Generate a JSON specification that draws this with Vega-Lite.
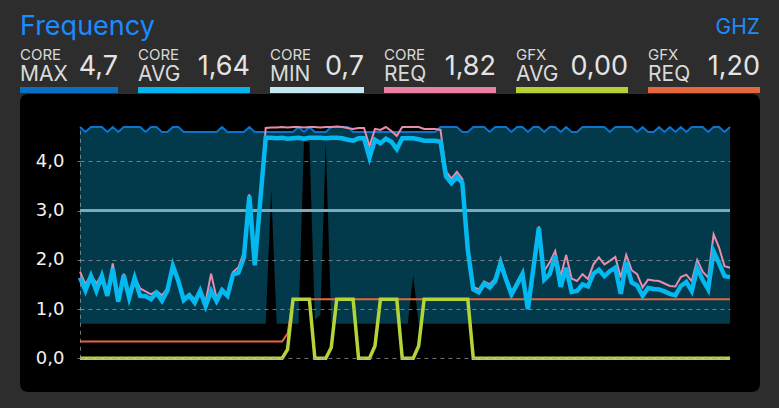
{
  "$schema": "https://vega.github.io/schema/vega-lite/v6.json",
  "background": "#2d2d2d",
  "padding": {"left": 20, "top": 13, "right": 19, "bottom": 17},
  "config": {
    "locale": {"number": {"decimal": ",", "thousands": ".", "grouping": [3], "currency": ["", " €"]}},
    "view": {"stroke": null},
    "text": {"font": "Inter"}
  },
  "spacing": 1,
  "vconcat": [
    {
      "bounds": "flush",
      "spacing": 20,
      "hconcat": [
        {
          "width": 98, "height": 6,
          "data": {"values": [{"key": "MAX", "grp": "CORE", "v": 4.7}]},
          "layer": [
            {"mark": {"type": "rect", "color": "#0a6fc2"}, "encoding": {"x": {"field": "key", "type": "nominal", "axis": null, "scale": {"paddingInner": 0, "paddingOuter": 0}}}},
            {"mark": {"type": "text", "align": "left", "baseline": "alphabetic", "dy": -55, "fontSize": 27, "color": "#1a8cff"}, "encoding": {"x": {"field": "key", "type": "nominal", "axis": null, "bandPosition": 0}, "text": {"value": "Frequency"}}},
            {"mark": {"type": "text", "align": "left", "baseline": "alphabetic", "dy": -30, "fontSize": 15, "color": "#dadada"}, "encoding": {"x": {"field": "key", "type": "nominal", "axis": null, "bandPosition": 0}, "text": {"field": "grp"}}},
            {"mark": {"type": "text", "align": "left", "baseline": "alphabetic", "dy": -9, "fontSize": 21, "color": "#dadada"}, "encoding": {"x": {"field": "key", "type": "nominal", "axis": null, "bandPosition": 0}, "text": {"field": "key"}}},
            {"mark": {"type": "text", "align": "right", "baseline": "alphabetic", "dy": -15, "fontSize": 27, "color": "#e4e4e4"}, "encoding": {"x": {"field": "key", "type": "nominal", "axis": null, "bandPosition": 1}, "text": {"field": "v", "type": "quantitative", "format": ".1f"}}}
          ]
        },
        {
          "width": 112, "height": 6,
          "data": {"values": [{"key": "AVG", "grp": "CORE", "v": 1.64}]},
          "layer": [
            {"mark": {"type": "rect", "color": "#04b4ec"}, "encoding": {"x": {"field": "key", "type": "nominal", "axis": null, "scale": {"paddingInner": 0, "paddingOuter": 0}}}},
            {"mark": {"type": "text", "align": "left", "baseline": "alphabetic", "dy": -30, "fontSize": 15, "color": "#dadada"}, "encoding": {"x": {"field": "key", "type": "nominal", "axis": null, "bandPosition": 0}, "text": {"field": "grp"}}},
            {"mark": {"type": "text", "align": "left", "baseline": "alphabetic", "dy": -9, "fontSize": 21, "color": "#dadada"}, "encoding": {"x": {"field": "key", "type": "nominal", "axis": null, "bandPosition": 0}, "text": {"field": "key"}}},
            {"mark": {"type": "text", "align": "right", "baseline": "alphabetic", "dy": -15, "fontSize": 27, "color": "#e4e4e4"}, "encoding": {"x": {"field": "key", "type": "nominal", "axis": null, "bandPosition": 1}, "text": {"field": "v", "type": "quantitative", "format": ".2f"}}}
          ]
        },
        {
          "width": 94, "height": 6,
          "data": {"values": [{"key": "MIN", "grp": "CORE", "v": 0.7}]},
          "layer": [
            {"mark": {"type": "rect", "color": "#c4e7f4"}, "encoding": {"x": {"field": "key", "type": "nominal", "axis": null, "scale": {"paddingInner": 0, "paddingOuter": 0}}}},
            {"mark": {"type": "text", "align": "left", "baseline": "alphabetic", "dy": -30, "fontSize": 15, "color": "#dadada"}, "encoding": {"x": {"field": "key", "type": "nominal", "axis": null, "bandPosition": 0}, "text": {"field": "grp"}}},
            {"mark": {"type": "text", "align": "left", "baseline": "alphabetic", "dy": -9, "fontSize": 21, "color": "#dadada"}, "encoding": {"x": {"field": "key", "type": "nominal", "axis": null, "bandPosition": 0}, "text": {"field": "key"}}},
            {"mark": {"type": "text", "align": "right", "baseline": "alphabetic", "dy": -15, "fontSize": 27, "color": "#e4e4e4"}, "encoding": {"x": {"field": "key", "type": "nominal", "axis": null, "bandPosition": 1}, "text": {"field": "v", "type": "quantitative", "format": ".1f"}}}
          ]
        },
        {
          "width": 112, "height": 6,
          "data": {"values": [{"key": "REQ", "grp": "CORE", "v": 1.82}]},
          "layer": [
            {"mark": {"type": "rect", "color": "#ea7ea4"}, "encoding": {"x": {"field": "key", "type": "nominal", "axis": null, "scale": {"paddingInner": 0, "paddingOuter": 0}}}},
            {"mark": {"type": "text", "align": "left", "baseline": "alphabetic", "dy": -30, "fontSize": 15, "color": "#dadada"}, "encoding": {"x": {"field": "key", "type": "nominal", "axis": null, "bandPosition": 0}, "text": {"field": "grp"}}},
            {"mark": {"type": "text", "align": "left", "baseline": "alphabetic", "dy": -9, "fontSize": 21, "color": "#dadada"}, "encoding": {"x": {"field": "key", "type": "nominal", "axis": null, "bandPosition": 0}, "text": {"field": "key"}}},
            {"mark": {"type": "text", "align": "right", "baseline": "alphabetic", "dy": -15, "fontSize": 27, "color": "#e4e4e4"}, "encoding": {"x": {"field": "key", "type": "nominal", "axis": null, "bandPosition": 1}, "text": {"field": "v", "type": "quantitative", "format": ".2f"}}}
          ]
        },
        {
          "width": 112, "height": 6,
          "data": {"values": [{"key": "AVG", "grp": "GFX", "v": 0}]},
          "layer": [
            {"mark": {"type": "rect", "color": "#b5d134"}, "encoding": {"x": {"field": "key", "type": "nominal", "axis": null, "scale": {"paddingInner": 0, "paddingOuter": 0}}}},
            {"mark": {"type": "text", "align": "left", "baseline": "alphabetic", "dy": -30, "fontSize": 15, "color": "#dadada"}, "encoding": {"x": {"field": "key", "type": "nominal", "axis": null, "bandPosition": 0}, "text": {"field": "grp"}}},
            {"mark": {"type": "text", "align": "left", "baseline": "alphabetic", "dy": -9, "fontSize": 21, "color": "#dadada"}, "encoding": {"x": {"field": "key", "type": "nominal", "axis": null, "bandPosition": 0}, "text": {"field": "key"}}},
            {"mark": {"type": "text", "align": "right", "baseline": "alphabetic", "dy": -15, "fontSize": 27, "color": "#e4e4e4"}, "encoding": {"x": {"field": "key", "type": "nominal", "axis": null, "bandPosition": 1}, "text": {"field": "v", "type": "quantitative", "format": ".2f"}}}
          ]
        },
        {
          "width": 112, "height": 6,
          "data": {"values": [{"key": "REQ", "grp": "GFX", "v": 1.2}]},
          "layer": [
            {"mark": {"type": "rect", "color": "#e5673d"}, "encoding": {"x": {"field": "key", "type": "nominal", "axis": null, "scale": {"paddingInner": 0, "paddingOuter": 0}}}},
            {"mark": {"type": "text", "align": "right", "baseline": "alphabetic", "dy": -56, "fontSize": 21, "color": "#1a8cff"}, "encoding": {"x": {"field": "key", "type": "nominal", "axis": null, "bandPosition": 1}, "text": {"value": "GHZ"}}},
            {"mark": {"type": "text", "align": "left", "baseline": "alphabetic", "dy": -30, "fontSize": 15, "color": "#dadada"}, "encoding": {"x": {"field": "key", "type": "nominal", "axis": null, "bandPosition": 0}, "text": {"field": "grp"}}},
            {"mark": {"type": "text", "align": "left", "baseline": "alphabetic", "dy": -9, "fontSize": 21, "color": "#dadada"}, "encoding": {"x": {"field": "key", "type": "nominal", "axis": null, "bandPosition": 0}, "text": {"field": "key"}}},
            {"mark": {"type": "text", "align": "right", "baseline": "alphabetic", "dy": -15, "fontSize": 27, "color": "#e4e4e4"}, "encoding": {"x": {"field": "key", "type": "nominal", "axis": null, "bandPosition": 1}, "text": {"field": "v", "type": "quantitative", "format": ".2f"}}}
          ]
        }
      ]
    },
    {
      "width": 740,
      "height": 298,
      "view": {"fill": "#000000", "cornerRadius": 8, "stroke": null},
      "data": {"values": [
        {"t":0,"mx":4.7,"mn":0.7,"av":1.64,"rq":1.76,"ga":0,"gr":0.34},
        {"t":1,"mx":4.6,"mn":0.7,"av":1.38,"rq":1.50,"ga":0,"gr":0.34},
        {"t":2,"mx":4.7,"mn":0.7,"av":1.67,"rq":1.70,"ga":0,"gr":0.34},
        {"t":3,"mx":4.7,"mn":0.7,"av":1.37,"rq":1.52,"ga":0,"gr":0.34},
        {"t":4,"mx":4.7,"mn":0.7,"av":1.67,"rq":1.70,"ga":0,"gr":0.34},
        {"t":5,"mx":4.6,"mn":0.7,"av":1.27,"rq":1.30,"ga":0,"gr":0.34},
        {"t":6,"mx":4.7,"mn":0.7,"av":1.82,"rq":1.93,"ga":0,"gr":0.34},
        {"t":7,"mx":4.6,"mn":0.7,"av":1.15,"rq":1.18,"ga":0,"gr":0.34},
        {"t":8,"mx":4.7,"mn":0.7,"av":1.69,"rq":1.72,"ga":0,"gr":0.34},
        {"t":9,"mx":4.7,"mn":0.7,"av":1.23,"rq":1.26,"ga":0,"gr":0.34},
        {"t":10,"mx":4.7,"mn":0.7,"av":1.63,"rq":1.66,"ga":0,"gr":0.34},
        {"t":11,"mx":4.7,"mn":0.7,"av":1.27,"rq":1.42,"ga":0,"gr":0.34},
        {"t":12,"mx":4.6,"mn":0.7,"av":1.26,"rq":1.36,"ga":0,"gr":0.34},
        {"t":13,"mx":4.7,"mn":0.7,"av":1.20,"rq":1.30,"ga":0,"gr":0.34},
        {"t":14,"mx":4.7,"mn":0.7,"av":1.33,"rq":1.37,"ga":0,"gr":0.34},
        {"t":15,"mx":4.6,"mn":0.7,"av":1.17,"rq":1.28,"ga":0,"gr":0.34},
        {"t":16,"mx":4.6,"mn":0.7,"av":1.38,"rq":1.42,"ga":0,"gr":0.34},
        {"t":17,"mx":4.7,"mn":0.7,"av":1.88,"rq":1.90,"ga":0,"gr":0.34},
        {"t":18,"mx":4.7,"mn":0.7,"av":1.57,"rq":1.60,"ga":0,"gr":0.34},
        {"t":19,"mx":4.6,"mn":0.7,"av":1.18,"rq":1.22,"ga":0,"gr":0.34},
        {"t":20,"mx":4.6,"mn":0.7,"av":1.28,"rq":1.31,"ga":0,"gr":0.34},
        {"t":21,"mx":4.6,"mn":0.7,"av":1.13,"rq":1.20,"ga":0,"gr":0.34},
        {"t":22,"mx":4.6,"mn":0.7,"av":1.37,"rq":1.40,"ga":0,"gr":0.34},
        {"t":23,"mx":4.6,"mn":0.7,"av":1.06,"rq":1.15,"ga":0,"gr":0.34},
        {"t":24,"mx":4.6,"mn":0.7,"av":1.37,"rq":1.72,"ga":0,"gr":0.34},
        {"t":25,"mx":4.6,"mn":0.7,"av":1.16,"rq":1.22,"ga":0,"gr":0.34},
        {"t":26,"mx":4.7,"mn":0.7,"av":1.38,"rq":1.42,"ga":0,"gr":0.34},
        {"t":27,"mx":4.6,"mn":0.7,"av":1.27,"rq":1.30,"ga":0,"gr":0.34},
        {"t":28,"mx":4.6,"mn":0.7,"av":1.70,"rq":1.75,"ga":0,"gr":0.34},
        {"t":29,"mx":4.6,"mn":0.7,"av":1.74,"rq":1.85,"ga":0,"gr":0.34},
        {"t":30,"mx":4.6,"mn":0.7,"av":2.05,"rq":2.15,"ga":0,"gr":0.34},
        {"t":31,"mx":4.7,"mn":0.7,"av":3.30,"rq":3.33,"ga":0,"gr":0.34},
        {"t":32,"mx":4.6,"mn":0.7,"av":1.89,"rq":1.92,"ga":0,"gr":0.34},
        {"t":33,"mx":4.6,"mn":0.7,"av":3.20,"rq":3.22,"ga":0,"gr":0.34},
        {"t":34,"mx":4.6,"mn":0.7,"av":4.48,"rq":4.68,"ga":0,"gr":0.34},
        {"t":35,"mx":4.6,"mn":3.43,"av":4.48,"rq":4.69,"ga":0,"gr":0.34},
        {"t":36,"mx":4.6,"mn":0.7,"av":4.47,"rq":4.69,"ga":0,"gr":0.34},
        {"t":37,"mx":4.6,"mn":0.7,"av":4.48,"rq":4.70,"ga":0,"gr":0.34},
        {"t":38,"mx":4.6,"mn":0.7,"av":4.46,"rq":4.69,"ga":0.18,"gr":0.5},
        {"t":39,"mx":4.6,"mn":0.7,"av":4.47,"rq":4.70,"ga":1.2,"gr":1.2},
        {"t":40,"mx":4.7,"mn":0.7,"av":4.48,"rq":4.70,"ga":1.2,"gr":1.2},
        {"t":41,"mx":4.6,"mn":4.40,"av":4.46,"rq":4.69,"ga":1.2,"gr":1.2},
        {"t":42,"mx":4.7,"mn":4.40,"av":4.48,"rq":4.70,"ga":1.2,"gr":1.2},
        {"t":43,"mx":4.6,"mn":0.78,"av":4.48,"rq":4.70,"ga":0,"gr":1.2},
        {"t":44,"mx":4.6,"mn":0.88,"av":4.48,"rq":4.69,"ga":0,"gr":1.2},
        {"t":45,"mx":4.6,"mn":4.38,"av":4.47,"rq":4.70,"ga":0,"gr":1.2},
        {"t":46,"mx":4.7,"mn":0.7,"av":4.48,"rq":4.70,"ga":0.22,"gr":1.2},
        {"t":47,"mx":4.7,"mn":0.7,"av":4.48,"rq":4.71,"ga":1.2,"gr":1.2},
        {"t":48,"mx":4.7,"mn":0.7,"av":4.47,"rq":4.70,"ga":1.2,"gr":1.2},
        {"t":49,"mx":4.7,"mn":0.7,"av":4.44,"rq":4.68,"ga":1.2,"gr":1.2},
        {"t":50,"mx":4.6,"mn":0.7,"av":4.42,"rq":4.66,"ga":1.2,"gr":1.2},
        {"t":51,"mx":4.6,"mn":0.7,"av":4.47,"rq":4.68,"ga":0,"gr":1.2},
        {"t":52,"mx":4.6,"mn":0.7,"av":4.47,"rq":4.68,"ga":0,"gr":1.2},
        {"t":53,"mx":4.6,"mn":0.7,"av":4.08,"rq":4.31,"ga":0,"gr":1.2},
        {"t":54,"mx":4.6,"mn":0.7,"av":4.44,"rq":4.66,"ga":0.25,"gr":1.2},
        {"t":55,"mx":4.6,"mn":0.7,"av":4.37,"rq":4.64,"ga":1.2,"gr":1.2},
        {"t":56,"mx":4.6,"mn":0.7,"av":4.46,"rq":4.70,"ga":1.2,"gr":1.2},
        {"t":57,"mx":4.6,"mn":0.7,"av":4.40,"rq":4.62,"ga":1.2,"gr":1.2},
        {"t":58,"mx":4.6,"mn":0.7,"av":4.25,"rq":4.52,"ga":1.2,"gr":1.2},
        {"t":59,"mx":4.6,"mn":0.7,"av":4.47,"rq":4.70,"ga":0,"gr":1.2},
        {"t":60,"mx":4.6,"mn":0.7,"av":4.47,"rq":4.70,"ga":0,"gr":1.2},
        {"t":61,"mx":4.6,"mn":1.68,"av":4.47,"rq":4.70,"ga":0,"gr":1.2},
        {"t":62,"mx":4.6,"mn":0.7,"av":4.45,"rq":4.70,"ga":0.25,"gr":1.2},
        {"t":63,"mx":4.6,"mn":0.7,"av":4.42,"rq":4.66,"ga":1.2,"gr":1.2},
        {"t":64,"mx":4.6,"mn":0.7,"av":4.42,"rq":4.66,"ga":1.2,"gr":1.2},
        {"t":65,"mx":4.6,"mn":0.7,"av":4.42,"rq":4.66,"ga":1.2,"gr":1.2},
        {"t":66,"mx":4.7,"mn":0.7,"av":4.40,"rq":4.64,"ga":1.2,"gr":1.2},
        {"t":67,"mx":4.7,"mn":0.7,"av":3.70,"rq":3.80,"ga":1.2,"gr":1.2},
        {"t":68,"mx":4.7,"mn":0.7,"av":3.56,"rq":3.65,"ga":1.2,"gr":1.2},
        {"t":69,"mx":4.7,"mn":0.7,"av":3.69,"rq":3.79,"ga":1.2,"gr":1.2},
        {"t":70,"mx":4.6,"mn":0.7,"av":3.56,"rq":3.64,"ga":1.2,"gr":1.2},
        {"t":71,"mx":4.6,"mn":0.7,"av":2.20,"rq":2.25,"ga":1.2,"gr":1.2},
        {"t":72,"mx":4.7,"mn":0.7,"av":1.40,"rq":1.45,"ga":0,"gr":1.2},
        {"t":73,"mx":4.7,"mn":0.7,"av":1.34,"rq":1.40,"ga":0,"gr":1.2},
        {"t":74,"mx":4.7,"mn":0.7,"av":1.52,"rq":1.56,"ga":0,"gr":1.2},
        {"t":75,"mx":4.6,"mn":0.7,"av":1.44,"rq":1.50,"ga":0,"gr":1.2},
        {"t":76,"mx":4.7,"mn":0.7,"av":1.57,"rq":1.62,"ga":0,"gr":1.2},
        {"t":77,"mx":4.7,"mn":0.7,"av":1.93,"rq":2.02,"ga":0,"gr":1.2},
        {"t":78,"mx":4.7,"mn":0.7,"av":1.60,"rq":1.66,"ga":0,"gr":1.2},
        {"t":79,"mx":4.6,"mn":0.7,"av":1.30,"rq":1.34,"ga":0,"gr":1.2},
        {"t":80,"mx":4.7,"mn":0.7,"av":1.50,"rq":1.55,"ga":0,"gr":1.2},
        {"t":81,"mx":4.7,"mn":0.7,"av":1.71,"rq":1.75,"ga":0,"gr":1.2},
        {"t":82,"mx":4.6,"mn":0.7,"av":1.00,"rq":1.03,"ga":0,"gr":1.2},
        {"t":83,"mx":4.7,"mn":0.7,"av":1.83,"rq":1.86,"ga":0,"gr":1.2},
        {"t":84,"mx":4.7,"mn":0.7,"av":2.65,"rq":2.68,"ga":0,"gr":1.2},
        {"t":85,"mx":4.6,"mn":0.7,"av":1.60,"rq":1.78,"ga":0,"gr":1.2},
        {"t":86,"mx":4.7,"mn":0.7,"av":1.71,"rq":1.95,"ga":0,"gr":1.2},
        {"t":87,"mx":4.7,"mn":0.7,"av":2.08,"rq":2.18,"ga":0,"gr":1.2},
        {"t":88,"mx":4.6,"mn":0.7,"av":1.45,"rq":1.66,"ga":0,"gr":1.2},
        {"t":89,"mx":4.7,"mn":0.7,"av":1.84,"rq":2.10,"ga":0,"gr":1.2},
        {"t":90,"mx":4.6,"mn":0.7,"av":1.35,"rq":1.62,"ga":0,"gr":1.2},
        {"t":91,"mx":4.6,"mn":0.7,"av":1.37,"rq":1.57,"ga":0,"gr":1.2},
        {"t":92,"mx":4.7,"mn":0.7,"av":1.50,"rq":1.71,"ga":0,"gr":1.2},
        {"t":93,"mx":4.7,"mn":0.7,"av":1.46,"rq":1.61,"ga":0,"gr":1.2},
        {"t":94,"mx":4.7,"mn":0.7,"av":1.72,"rq":1.91,"ga":0,"gr":1.2},
        {"t":95,"mx":4.7,"mn":0.7,"av":1.80,"rq":2.05,"ga":0,"gr":1.2},
        {"t":96,"mx":4.7,"mn":0.7,"av":1.67,"rq":1.91,"ga":0,"gr":1.2},
        {"t":97,"mx":4.6,"mn":0.7,"av":1.77,"rq":1.98,"ga":0,"gr":1.2},
        {"t":98,"mx":4.7,"mn":0.7,"av":1.84,"rq":2.06,"ga":0,"gr":1.2},
        {"t":99,"mx":4.7,"mn":0.7,"av":1.31,"rq":1.64,"ga":0,"gr":1.2},
        {"t":100,"mx":4.7,"mn":0.7,"av":1.95,"rq":2.10,"ga":0,"gr":1.2},
        {"t":101,"mx":4.7,"mn":0.7,"av":1.54,"rq":1.79,"ga":0,"gr":1.2},
        {"t":102,"mx":4.6,"mn":0.7,"av":1.48,"rq":1.71,"ga":0,"gr":1.2},
        {"t":103,"mx":4.7,"mn":0.7,"av":1.27,"rq":1.44,"ga":0,"gr":1.2},
        {"t":104,"mx":4.6,"mn":0.7,"av":1.43,"rq":1.60,"ga":0,"gr":1.2},
        {"t":105,"mx":4.6,"mn":0.7,"av":1.41,"rq":1.58,"ga":0,"gr":1.2},
        {"t":106,"mx":4.7,"mn":0.7,"av":1.40,"rq":1.57,"ga":0,"gr":1.2},
        {"t":107,"mx":4.6,"mn":0.7,"av":1.36,"rq":1.52,"ga":0,"gr":1.2},
        {"t":108,"mx":4.7,"mn":0.7,"av":1.31,"rq":1.47,"ga":0,"gr":1.2},
        {"t":109,"mx":4.6,"mn":0.7,"av":1.28,"rq":1.46,"ga":0,"gr":1.2},
        {"t":110,"mx":4.7,"mn":0.7,"av":1.47,"rq":1.65,"ga":0,"gr":1.2},
        {"t":111,"mx":4.6,"mn":0.7,"av":1.55,"rq":1.70,"ga":0,"gr":1.2},
        {"t":112,"mx":4.7,"mn":0.7,"av":1.37,"rq":1.57,"ga":0,"gr":1.2},
        {"t":113,"mx":4.7,"mn":0.7,"av":1.83,"rq":2.00,"ga":0,"gr":1.2},
        {"t":114,"mx":4.7,"mn":0.7,"av":1.59,"rq":1.76,"ga":0,"gr":1.2},
        {"t":115,"mx":4.6,"mn":0.7,"av":1.40,"rq":1.64,"ga":0,"gr":1.2},
        {"t":116,"mx":4.7,"mn":0.7,"av":2.17,"rq":2.52,"ga":0,"gr":1.2},
        {"t":117,"mx":4.7,"mn":0.7,"av":1.93,"rq":2.25,"ga":0,"gr":1.2},
        {"t":118,"mx":4.6,"mn":0.7,"av":1.67,"rq":1.87,"ga":0,"gr":1.2},
        {"t":119,"mx":4.7,"mn":0.7,"av":1.65,"rq":1.84,"ga":0,"gr":1.2}
      ]},
      "encoding": {
        "x": {"field": "t", "type": "quantitative", "axis": null, "scale": {"domain": [0, 119], "range": [60, 710], "nice": false, "zero": false}}
      },
      "layer": [
        {
          "mark": {"type": "area", "color": "#023a4b", "opacity": 1},
          "encoding": {
            "y": {
              "field": "mx", "type": "quantitative",
              "scale": {"domain": [0, 4.7], "range": [264.3, 33], "nice": false, "zero": false},
              "axis": {
                "title": null,
                "values": [0, 0.5, 1, 1.5, 2, 2.5, 3, 3.5, 4, 4.5],
                "format": ".1f",
                "labelExpr": "datum.value % 1 ? '' : datum.label",
                "offset": -60,
                "zindex": 1,
                "grid": true,
                "gridColor": {"condition": {"test": "datum.value === 3", "value": "#78adbf"}, "value": "#9a9a9a"},
                "gridOpacity": {"condition": {"test": "datum.value === 3", "value": 0}, "value": 0.75},
                "gridDash": [4, 4],
                "gridWidth": 1,
                "domain": true,
                "domainColor": "#9a9a9a",
                "domainOpacity": 0.75,
                "domainDash": [4, 4],
                "domainWidth": 1,
                "ticks": true,
                "tickSize": 3,
                "tickColor": "#9a9a9a",
                "tickOpacity": {"condition": {"test": "datum.value % 1", "value": 0}, "value": 0.75},
                "labelFont": "DejaVu Sans",
                "labelFontSize": 18,
                "labelColor": "#f2f2f2",
                "labelPadding": 13
              }
            },
            "y2": {"field": "mn"}
          }
        },
        {
          "mark": {"type": "rule", "color": "#78adbf", "strokeWidth": 2},
          "encoding": {
            "y": {"datum": 3, "type": "quantitative", "title": null, "scale": {"domain": [0, 4.7], "range": [264.3, 33], "nice": false, "zero": false}},
            "x": {"datum": 0, "type": "quantitative", "axis": null},
            "x2": {"datum": 119}
          }
        },
        {
          "mark": {"type": "line", "color": "#0b74cc", "strokeWidth": 2},
          "encoding": {"y": {"field": "mx", "type": "quantitative", "title": null, "scale": {"domain": [0, 4.7], "range": [264.3, 33], "nice": false, "zero": false}}}
        },
        {
          "mark": {"type": "line", "color": "#e5673d", "strokeWidth": 2},
          "encoding": {"y": {"field": "gr", "type": "quantitative", "title": null, "scale": {"domain": [0, 4.7], "range": [264.3, 33], "nice": false, "zero": false}}}
        },
        {
          "mark": {"type": "line", "color": "#b5d437", "strokeWidth": 3.5},
          "encoding": {"y": {"field": "ga", "type": "quantitative", "title": null, "scale": {"domain": [0, 4.7], "range": [264.3, 33], "nice": false, "zero": false}}}
        },
        {
          "mark": {"type": "line", "color": "#e88cad", "strokeWidth": 2},
          "encoding": {"y": {"field": "rq", "type": "quantitative", "title": null, "scale": {"domain": [0, 4.7], "range": [264.3, 33], "nice": false, "zero": false}}}
        },
        {
          "mark": {"type": "line", "color": "#03b9ef", "strokeWidth": 4.5},
          "encoding": {"y": {"field": "av", "type": "quantitative", "title": null, "scale": {"domain": [0, 4.7], "range": [264.3, 33], "nice": false, "zero": false}}}
        }
      ]
    }
  ]
}
